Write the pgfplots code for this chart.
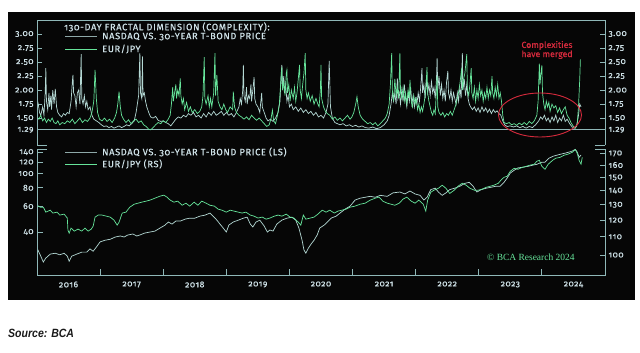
\documentclass[border=0pt]{standalone}
\usepackage{pgfplots}
\pgfplotsset{compat=1.18}
\usepackage{fontspec}
\setmainfont{Fira Sans}[Numbers=OldStyle]
\newfontfamily\chartfont{Fira Sans}[Numbers=OldStyle, LetterSpace=7, FakeBold=0.6]
\newfontfamily\redfont{Fira Sans}[FakeBold=0.5]
\newfontfamily\bcafont{Liberation Serif}
\newfontfamily\srcfont{Liberation Sans}[FakeStretch=0.88]
\definecolor{bg}{HTML}{060606}
\definecolor{frame}{HTML}{8FB8B8}
\definecolor{txt}{HTML}{CFE2E8}
\definecolor{ndq}{HTML}{B4D8D4}
\definecolor{eur}{HTML}{66E49A}
\definecolor{ndqleg}{HTML}{8EA8A8}
\definecolor{redc}{HTML}{D42A3C}
\pgfplotsset{
  common/.style={scale only axis, width=568bp, xmin=2016, xmax=2025,
    axis line style={draw=none}, tick align=inside, major tick length=5bp,
    tick style={draw=frame, line width=0.8bp},
    tick label style={font=\chartfont\fontsize{8.5}{10}\selectfont, text=txt},
    /pgf/number format/assume math mode=true},
}
\begin{document}
\begin{tikzpicture}
\useasboundingbox (0,0) rectangle (640bp,353bp);
\fill[bg] (8bp,53bp) rectangle (635bp,341bp);
% ---------- top panel ----------
\begin{axis}[common, at={(37bp,208bp)}, anchor=south west, height=125bp,
  ymin=1.019, ymax=3.251, xtick=\empty,
  ytick={1.29,1.5,1.75,2,2.25,2.5,2.75,3},
  yticklabels={1.29,1.50,1.75,2.00,2.25,2.50,2.75,3.00},
  ytick pos=both, yticklabel pos=left]
\addplot[frame, line width=0.8bp] coordinates {(2016,1.29) (2025,1.29)};
\addplot[ndq, line width=0.7bp] coordinates {
(2016.00,1.85)(2016.02,1.75)(2016.04,1.60)(2016.06,1.55)(2016.09,1.70)(2016.11,1.55)(2016.13,1.95)(2016.14,2.39)(2016.15,1.80)(2016.17,1.65)(2016.19,1.95)(2016.20,1.70)(2016.22,1.90)(2016.23,1.65)(2016.25,2.00)(2016.27,1.75)(2016.29,2.02)(2016.31,1.70)(2016.33,1.60)(2016.36,1.55)(2016.39,1.52)(2016.42,1.58)(2016.45,1.55)(2016.48,1.60)(2016.51,1.58)(2016.54,1.80)(2016.56,2.15)(2016.57,2.27)(2016.58,1.95)(2016.60,1.90)(2016.62,1.70)(2016.64,1.95)(2016.66,2.00)(2016.68,1.75)(2016.70,2.64)(2016.71,1.85)(2016.73,1.75)(2016.75,1.90)(2016.77,1.70)(2016.79,1.80)(2016.81,1.65)(2016.84,1.70)(2016.87,1.55)(2016.90,1.48)(2016.94,1.45)(2016.98,1.42)
(2017.02,1.38)(2017.06,1.35)(2017.10,1.36)(2017.14,1.33)(2017.18,1.35)(2017.22,1.32)(2017.26,1.34)(2017.30,1.36)(2017.34,1.33)(2017.38,1.35)(2017.42,1.38)(2017.46,1.36)(2017.50,1.40)(2017.54,1.45)(2017.57,1.60)(2017.59,1.75)(2017.61,1.90)(2017.63,2.66)(2017.64,1.95)(2017.66,1.85)(2017.67,2.60)(2017.68,1.90)(2017.70,1.95)(2017.72,1.80)(2017.74,1.70)(2017.77,1.60)(2017.80,1.52)(2017.84,1.50)(2017.88,1.53)(2017.92,1.46)(2017.96,1.44)(2018.00,1.45)(2018.04,1.42)(2018.08,1.40)(2018.12,1.36)(2018.16,1.42)
(2018.20,1.48)(2018.24,1.52)(2018.28,1.50)(2018.32,1.55)(2018.36,1.52)(2018.40,1.58)(2018.44,1.55)(2018.48,1.60)(2018.52,1.52)(2018.56,1.55)(2018.60,1.50)(2018.64,1.58)(2018.68,1.52)(2018.72,1.60)(2018.76,1.55)(2018.80,1.62)(2018.84,1.55)(2018.88,1.58)(2018.92,1.62)(2018.96,1.55)(2019.00,1.60)
(2019.04,1.55)(2019.08,1.58)(2019.12,1.52)(2019.16,1.60)(2019.20,1.70)(2019.22,1.85)(2019.24,1.75)(2019.26,2.00)(2019.27,2.45)(2019.28,1.90)(2019.30,1.80)(2019.32,2.05)(2019.33,1.75)(2019.35,1.90)(2019.37,1.85)(2019.39,2.10)(2019.40,1.80)(2019.42,2.00)(2019.44,2.23)(2019.45,1.85)(2019.47,1.75)(2019.50,1.70)(2019.53,1.60)(2019.56,1.95)(2019.57,1.70)(2019.60,1.60)(2019.63,1.50)(2019.66,1.45)(2019.70,1.48)(2019.74,1.44)(2019.78,1.50)(2019.82,1.60)(2019.85,1.80)(2019.87,2.30)(2019.88,2.45)(2019.89,2.00)(2019.91,2.25)(2019.92,1.95)(2019.94,2.10)(2019.96,1.80)(2019.98,1.90)(2020.00,1.70)
(2020.03,1.75)(2020.06,1.65)(2020.10,1.70)(2020.14,1.62)(2020.18,1.68)(2020.22,1.60)(2020.26,1.65)(2020.30,1.58)(2020.34,1.62)(2020.38,1.55)(2020.42,1.60)(2020.46,1.52)(2020.50,1.55)(2020.54,1.50)(2020.58,1.60)(2020.61,1.75)(2020.63,2.52)(2020.65,1.70)(2020.68,1.50)(2020.72,1.42)(2020.76,1.40)(2020.80,1.38)(2020.85,1.40)(2020.90,1.36)(2020.95,1.38)(2021.00,1.35)(2021.05,1.37)(2021.10,1.34)(2021.15,1.36)(2021.20,1.33)(2021.26,1.32)(2021.32,1.34)(2021.38,1.31)(2021.44,1.33)(2021.50,1.38)(2021.55,1.45)(2021.58,1.55)
(2021.61,1.75)(2021.63,1.95)(2021.65,1.80)(2021.67,1.95)(2021.69,1.75)(2021.71,2.21)(2021.72,1.85)(2021.74,1.95)(2021.76,1.75)(2021.78,2.00)(2021.80,1.80)(2021.82,2.10)(2021.84,1.85)(2021.86,1.70)(2021.88,1.95)(2021.90,1.80)(2021.92,2.05)(2021.94,1.75)(2021.96,1.90)(2021.98,1.70)(2022.00,1.85)(2022.02,1.75)(2022.04,1.95)(2022.06,1.80)(2022.08,2.05)(2022.10,2.39)(2022.11,1.95)(2022.13,2.10)(2022.15,1.85)(2022.17,2.20)(2022.19,1.95)(2022.21,2.10)(2022.23,1.90)(2022.25,2.15)(2022.27,1.95)(2022.29,2.05)(2022.31,1.85)(2022.33,2.20)(2022.34,2.57)(2022.35,2.00)(2022.37,2.25)(2022.39,1.90)(2022.41,2.10)(2022.43,1.85)(2022.45,2.00)(2022.47,1.80)(2022.49,2.15)(2022.51,2.34)(2022.52,1.95)(2022.54,1.85)(2022.56,2.00)(2022.58,1.80)(2022.60,1.95)(2022.62,1.85)(2022.64,1.75)(2022.66,1.95)(2022.68,1.80)(2022.70,2.05)(2022.72,1.85)(2022.74,2.66)(2022.75,2.00)(2022.77,2.20)(2022.79,1.90)(2022.81,2.10)(2022.83,1.85)(2022.85,1.75)(2022.87,1.70)(2022.90,1.65)(2022.93,1.70)(2022.96,1.62)(2022.99,1.68)
(2023.02,1.60)(2023.05,1.70)(2023.08,1.62)(2023.11,1.68)(2023.14,1.60)(2023.17,1.66)(2023.20,1.58)(2023.23,1.65)(2023.26,1.60)(2023.29,1.63)(2023.32,1.58)(2023.35,1.55)(2023.38,1.45)(2023.41,1.38)(2023.45,1.35)(2023.50,1.36)(2023.55,1.34)(2023.60,1.36)(2023.65,1.33)(2023.70,1.35)(2023.75,1.32)(2023.80,1.35)(2023.85,1.33)(2023.90,1.38)(2023.95,1.45)(2023.98,1.52)(2024.01,1.48)(2024.04,1.55)(2024.07,1.45)(2024.10,1.50)(2024.13,1.42)(2024.16,1.52)(2024.19,1.45)(2024.22,1.55)(2024.25,1.42)(2024.28,1.50)(2024.31,1.45)(2024.34,1.55)(2024.37,1.44)(2024.40,1.48)(2024.44,1.40)(2024.48,1.34)(2024.52,1.32)(2024.55,1.35)(2024.58,1.55)(2024.60,1.75)(2024.62,1.70)
};
\addplot[eur, line width=0.7bp] coordinates {
(2016.00,1.52)(2016.03,1.48)(2016.06,1.55)(2016.09,1.45)(2016.12,1.50)(2016.15,1.42)(2016.18,1.48)(2016.21,1.44)(2016.24,1.50)(2016.27,1.42)(2016.30,1.40)(2016.33,1.45)(2016.36,1.38)(2016.40,1.42)(2016.44,1.40)(2016.48,1.45)(2016.52,1.42)(2016.56,1.48)(2016.60,1.40)(2016.64,1.45)(2016.68,1.50)(2016.72,1.42)(2016.76,1.47)(2016.80,1.44)(2016.84,1.50)(2016.87,1.60)(2016.90,1.80)(2016.92,2.36)(2016.94,1.85)(2016.96,1.60)(2016.99,1.48)
(2017.03,1.45)(2017.07,1.50)(2017.11,1.44)(2017.15,1.48)(2017.19,1.42)(2017.23,1.50)(2017.26,1.60)(2017.28,1.75)(2017.30,1.97)(2017.32,1.70)(2017.34,1.55)(2017.37,1.48)(2017.41,1.42)(2017.45,1.47)(2017.49,1.40)(2017.53,1.45)(2017.57,1.48)(2017.61,1.42)(2017.65,1.45)(2017.69,1.38)(2017.73,1.35)(2017.77,1.30)(2017.80,1.29)(2017.84,1.33)(2017.88,1.38)(2017.92,1.42)(2017.96,1.40)
(2018.00,1.45)(2018.04,1.42)(2018.08,1.48)(2018.11,1.55)(2018.13,1.75)(2018.15,2.05)(2018.16,1.80)(2018.18,1.95)(2018.20,2.10)(2018.21,1.85)(2018.23,2.00)(2018.25,1.90)(2018.27,2.21)(2018.28,1.90)(2018.30,1.75)(2018.32,1.85)(2018.34,1.65)(2018.37,1.78)(2018.40,1.62)(2018.43,1.70)(2018.46,1.60)(2018.50,1.65)(2018.54,1.58)(2018.58,1.62)(2018.61,1.70)(2018.63,1.90)(2018.65,2.59)(2018.66,1.85)(2018.68,1.75)(2018.71,1.90)(2018.73,1.70)(2018.75,1.85)(2018.77,1.70)(2018.80,1.95)(2018.82,2.66)(2018.83,1.90)(2018.85,2.27)(2018.87,1.80)(2018.90,1.70)(2018.93,1.65)(2018.96,1.75)(2018.99,1.65)
(2019.02,1.60)(2019.06,1.70)(2019.10,1.65)(2019.11,1.97)(2019.13,1.70)(2019.16,1.60)(2019.20,1.55)(2019.24,1.52)(2019.28,1.48)(2019.32,1.52)(2019.36,1.47)(2019.40,1.55)(2019.44,1.50)(2019.48,1.46)(2019.52,1.50)(2019.56,1.45)(2019.60,1.40)(2019.64,1.35)(2019.68,1.38)(2019.71,1.50)(2019.73,1.64)(2019.75,1.45)(2019.78,1.40)(2019.81,1.55)(2019.84,1.75)(2019.86,2.10)(2019.88,2.41)(2019.89,2.00)(2019.91,2.15)(2019.93,1.90)(2019.95,2.30)(2019.96,2.36)(2019.97,1.95)(2019.99,2.10)
(2020.01,1.80)(2020.03,2.00)(2020.06,1.85)(2020.08,2.05)(2020.10,1.80)(2020.12,1.95)(2020.14,2.20)(2020.16,2.45)(2020.17,2.00)(2020.19,1.85)(2020.21,2.10)(2020.23,2.30)(2020.25,2.66)(2020.26,2.00)(2020.28,1.85)(2020.30,1.95)(2020.33,1.80)(2020.36,1.90)(2020.39,1.75)(2020.42,1.85)(2020.45,1.75)(2020.47,1.70)(2020.49,2.00)(2020.50,2.45)(2020.51,1.85)(2020.54,1.70)(2020.57,1.62)(2020.60,1.58)(2020.64,1.55)(2020.68,1.48)(2020.72,1.52)(2020.76,1.46)(2020.80,1.50)(2020.84,1.45)(2020.88,1.50)(2020.92,1.55)(2020.96,1.48)(2020.99,1.52)
(2021.02,1.60)(2021.05,1.75)(2021.07,1.88)(2021.09,1.70)(2021.12,1.55)(2021.16,1.48)(2021.20,1.44)(2021.24,1.40)(2021.28,1.42)(2021.32,1.38)(2021.36,1.42)(2021.40,1.36)(2021.44,1.40)(2021.48,1.45)(2021.52,1.50)(2021.55,1.58)(2021.58,1.75)(2021.60,2.10)(2021.62,2.66)(2021.63,2.00)(2021.65,1.80)(2021.67,2.20)(2021.69,1.90)(2021.71,2.05)(2021.73,1.85)(2021.75,2.66)(2021.76,1.95)(2021.78,1.85)(2021.80,2.05)(2021.82,1.80)(2021.84,1.95)(2021.86,1.75)(2021.88,2.00)(2021.90,1.85)(2021.91,2.18)(2021.93,1.80)(2021.95,1.70)(2021.97,1.90)(2021.99,1.75)
(2022.01,1.85)(2022.03,1.65)(2022.05,1.75)(2022.07,1.60)(2022.09,1.70)(2022.11,1.62)(2022.13,1.75)(2022.15,1.90)(2022.17,2.20)(2022.18,2.41)(2022.19,1.95)(2022.21,1.80)(2022.23,1.70)(2022.25,1.60)(2022.27,1.55)(2022.29,1.65)(2022.31,1.58)(2022.34,2.25)(2022.35,1.70)(2022.37,1.60)(2022.40,1.55)(2022.43,1.60)(2022.46,1.52)(2022.49,1.58)(2022.52,1.55)(2022.55,1.62)(2022.58,1.55)(2022.61,1.65)(2022.64,1.75)(2022.67,1.90)(2022.70,2.10)(2022.72,2.30)(2022.73,2.40)(2022.74,2.00)(2022.76,2.20)(2022.78,2.30)(2022.81,2.64)(2022.82,2.00)(2022.84,1.90)(2022.86,2.10)(2022.88,2.39)(2022.89,1.95)(2022.91,1.85)(2022.93,2.05)(2022.95,1.80)(2022.97,2.00)(2022.99,1.85)
(2023.01,2.10)(2023.03,1.90)(2023.05,2.00)(2023.07,1.80)(2023.09,1.95)(2023.11,1.85)(2023.13,2.05)(2023.15,1.85)(2023.17,2.00)(2023.19,1.90)(2023.21,2.25)(2023.22,1.95)(2023.24,1.85)(2023.26,2.05)(2023.28,1.90)(2023.30,2.10)(2023.32,1.85)(2023.34,1.95)(2023.36,1.80)(2023.38,1.55)(2023.40,1.42)(2023.44,1.40)(2023.48,1.42)(2023.52,1.38)(2023.56,1.40)(2023.60,1.37)(2023.64,1.41)(2023.68,1.38)(2023.72,1.42)(2023.76,1.38)(2023.80,1.44)(2023.84,1.40)(2023.88,1.45)(2023.92,1.55)(2023.94,1.80)(2023.96,2.47)(2023.97,2.10)(2023.99,2.35)
(2024.00,2.44)(2024.01,1.95)(2024.03,1.75)(2024.05,1.65)(2024.07,1.80)(2024.09,1.70)(2024.11,1.78)(2024.13,1.62)(2024.16,1.75)(2024.19,1.68)(2024.22,1.72)(2024.25,1.60)(2024.28,1.68)(2024.31,1.58)(2024.34,1.65)(2024.37,1.70)(2024.40,1.55)(2024.43,1.50)(2024.46,1.42)(2024.50,1.35)(2024.53,1.32)(2024.56,1.40)(2024.58,1.70)(2024.60,2.20)(2024.61,2.55)
};
\end{axis}
\begin{axis}[common, at={(37bp,208bp)}, anchor=south west, height=125bp,
  ymin=1.019, ymax=3.251, xtick=\empty,
  ytick={1.29,1.5,1.75,2,2.25,2.5,2.75,3},
  yticklabels={1.29,1.50,1.75,2.00,2.25,2.50,2.75,3.00},
  ytick pos=right, yticklabel pos=right, major tick length=0pt]
\addplot[draw=none] coordinates {(2016,2)};
\end{axis}
% ---------- bottom panel, left axis ----------
\begin{axis}[common, at={(37bp,78bp)}, anchor=south west, height=126bp,
  ymode=log, ymin=20.4, ymax=147,
  ytick={40,60,80,100,120,140}, yticklabels={40,60,80,100,120,140},
  ytick pos=left, yticklabel pos=left,
  xtick={2017,2018,2019,2020,2021,2022,2023,2024},
  xticklabels={,,,,,,,}, xtick pos=bottom, major tick length=6bp,
  extra x ticks={2016.5,2017.5,2018.5,2019.5,2020.5,2021.5,2022.5,2023.5,2024.5},
  extra x tick labels={2016,2017,2018,2019,2020,2021,2022,2023,2024},
  extra x tick style={major tick length=0pt, tick style={draw=none}},
  xticklabel style={yshift=-3bp}]
\addplot[ndq, line width=0.7bp] coordinates {
(2016.00,31.1)(2016.05,28.0)(2016.10,25.0)(2016.14,26.6)(2016.21,28.3)(2016.29,28.7)(2016.36,28.0)(2016.43,28.7)(2016.48,27.4)(2016.51,25.3)(2016.55,27.4)(2016.63,28.3)(2016.71,29.2)(2016.79,29.2)(2016.84,30.7)(2016.89,29.6)(2016.95,32.0)
(2017.00,34.3)(2017.08,35.2)(2017.16,35.7)(2017.24,37.0)(2017.32,37.6)(2017.38,37.0)(2017.44,38.2)(2017.52,38.8)(2017.58,37.6)(2017.63,38.2)(2017.71,39.4)(2017.79,40.0)(2017.87,40.6)(2017.95,42.6)
(2018.03,44.6)(2018.08,46.8)(2018.14,45.3)(2018.20,47.5)(2018.27,47.5)(2018.35,49.0)(2018.42,49.7)(2018.50,49.7)(2018.58,51.3)(2018.66,52.1)(2018.74,53.8)(2018.79,51.3)(2018.85,48.2)(2018.90,45.3)(2018.95,42.6)
(2019.00,40.0)(2019.04,44.6)(2019.11,46.8)(2019.19,48.2)(2019.27,49.7)(2019.33,50.5)(2019.38,45.3)(2019.42,43.3)(2019.47,46.8)(2019.53,48.2)(2019.60,43.9)(2019.65,40.0)(2019.69,41.3)(2019.74,40.6)(2019.80,45.3)(2019.88,48.2)(2019.96,49.7)
(2020.04,50.5)(2020.10,48.2)(2020.15,42.6)(2020.20,35.2)(2020.23,30.2)(2020.26,28.7)(2020.30,31.1)(2020.34,33.0)(2020.39,35.2)(2020.44,38.2)(2020.48,42.6)(2020.55,44.6)(2020.60,46.8)(2020.66,49.7)(2020.74,51.3)(2020.80,53.8)(2020.88,57.2)(2020.96,60.0)
(2021.04,66.0)(2021.12,68.0)(2021.20,69.0)(2021.28,70.0)(2021.36,69.0)(2021.44,71.1)(2021.55,70.0)(2021.64,73.9)(2021.75,74.9)(2021.83,72.7)(2021.91,76.1)(2021.99,72.7)
(2022.07,71.1)(2022.13,66.0)(2022.18,69.0)(2022.24,77.8)(2022.31,79.6)(2022.36,74.9)(2022.42,71.1)(2022.48,73.9)(2022.54,77.8)(2022.62,79.6)(2022.70,82.0)(2022.78,85.8)(2022.85,87.2)(2022.91,82.0)(2022.97,74.9)
(2023.04,77.8)(2023.12,79.6)(2023.19,80.6)(2023.27,82.0)(2023.34,82.0)(2023.40,87.2)(2023.45,93.2)(2023.50,100.9)(2023.56,105.3)(2023.62,109.3)(2023.70,110.5)(2023.78,112.0)(2023.86,114.2)(2023.92,115.6)
(2024.00,119.6)(2024.05,119.6)(2024.11,127.2)(2024.18,131.3)(2024.24,133.5)(2024.30,135.6)(2024.37,137.8)(2024.43,140.0)(2024.48,142.3)(2024.53,146.0)(2024.56,140.0)(2024.59,129.2)(2024.62,133.5)
};
\end{axis}
% ---------- bottom panel, right axis ----------
\begin{axis}[common, at={(37bp,78bp)}, anchor=south west, height=126bp,
  ymode=log, ymin=90.1, ymax=174, xtick=\empty,
  ytick={100,110,120,130,140,150,160,170},
  yticklabels={100,110,120,130,140,150,160,170},
  ytick pos=right, yticklabel pos=right]
\addplot[eur, line width=0.7bp] coordinates {
(2016.00,129.7)(2016.05,128.4)(2016.10,128.4)(2016.14,125.1)(2016.21,126.4)(2016.25,124.5)(2016.32,125.1)(2016.36,123.2)(2016.43,123.8)(2016.48,121.3)(2016.49,113.9)(2016.51,112.1)(2016.54,115.1)(2016.59,113.3)(2016.65,114.5)(2016.71,113.3)(2016.76,115.1)(2016.81,113.3)(2016.86,114.5)(2016.89,116.3)(2016.92,121.9)(2016.97,123.2)
(2017.03,123.2)(2017.10,122.5)(2017.16,121.9)(2017.22,120.0)(2017.27,116.9)(2017.30,118.7)(2017.35,124.5)(2017.41,125.1)(2017.47,128.4)(2017.54,130.4)(2017.60,131.1)(2017.66,131.8)(2017.73,132.5)(2017.79,133.2)(2017.87,134.6)(2017.95,136.0)
(2018.01,136.7)(2018.06,135.3)(2018.11,133.2)(2018.17,131.8)(2018.23,132.5)(2018.30,129.7)(2018.36,131.1)(2018.42,129.1)(2018.49,131.8)(2018.55,129.7)(2018.61,132.5)(2018.68,131.1)(2018.74,129.7)(2018.81,129.1)(2018.87,127.1)(2018.93,126.4)
(2019.00,125.1)(2019.06,126.4)(2019.12,125.8)(2019.19,125.1)(2019.25,124.5)(2019.31,125.1)(2019.38,123.2)(2019.44,122.5)(2019.50,121.3)(2019.57,121.9)(2019.63,120.6)(2019.69,121.3)(2019.76,122.5)(2019.82,123.2)(2019.88,122.5)(2019.95,123.8)
(2020.01,121.9)(2020.07,121.3)(2020.14,118.7)(2020.18,116.9)(2020.22,123.2)(2020.26,120.6)(2020.33,121.3)(2020.39,121.9)(2020.45,123.8)(2020.52,126.4)(2020.58,125.1)(2020.64,126.4)(2020.71,124.5)(2020.77,125.8)(2020.83,126.4)(2020.90,127.1)(2020.96,128.4)
(2021.04,129.1)(2021.12,130.4)(2021.20,131.1)(2021.28,133.2)(2021.36,134.6)(2021.42,135.3)(2021.48,132.5)(2021.55,131.1)(2021.61,130.4)(2021.67,129.7)(2021.74,131.1)(2021.80,133.9)(2021.86,135.3)(2021.93,132.5)(2021.99,131.1)
(2022.05,133.2)(2022.12,130.4)(2022.16,125.8)(2022.19,133.2)(2022.24,138.8)(2022.29,140.3)(2022.36,141.7)(2022.42,144.0)(2022.48,141.7)(2022.54,137.9)(2022.61,140.3)(2022.67,143.2)(2022.74,145.5)(2022.80,144.0)(2022.86,141.7)(2022.93,140.3)(2022.99,140.3)
(2023.05,141.0)(2023.12,142.5)(2023.18,143.2)(2023.24,144.0)(2023.31,145.5)(2023.35,147.8)(2023.40,150.1)(2023.45,150.9)(2023.50,154.9)(2023.56,157.3)(2023.62,156.5)(2023.69,158.1)(2023.75,158.9)(2023.81,159.9)(2023.88,160.7)(2023.92,163.2)(2023.96,164.0)
(2024.00,158.9)(2024.05,156.5)(2024.10,160.7)(2024.17,164.0)(2024.22,165.8)(2024.29,166.6)(2024.35,168.4)(2024.41,169.3)(2024.48,171.0)(2024.53,173.5)(2024.56,170.1)(2024.59,164.0)(2024.62,160.7)(2024.64,166.6)
};
\end{axis}
% ---------- frames ----------
\begin{scope}[draw=frame, line width=0.8bp]
\draw (37bp,208bp) -- (37bp,333bp) -- (605bp,333bp) -- (605bp,208bp);
\draw (37bp,208bp) -- (47bp,208bp);
\draw (595bp,208bp) -- (605bp,208bp);
\draw (37bp,204bp) -- (37bp,78bp) -- (605bp,78bp) -- (605bp,204bp);
\draw (37bp,204bp) -- (47bp,204bp);
\draw (595bp,204bp) -- (605bp,204bp);
\end{scope}
% ---------- legends and notes ----------
\begin{scope}[every node/.style={font=\chartfont\fontsize{9.3}{10}\selectfont, text=txt, inner sep=0pt}]
\node[anchor=west] at (64bp,326bp) {130-DAY FRACTAL DIMENSION (COMPLEXITY):};
\draw[ndqleg, line width=0.9bp] (65bp,316.5bp) -- (97bp,316.5bp);
\node[anchor=west] at (102bp,316.5bp) {NASDAQ VS. 30-YEAR T-BOND PRICE};
\draw[eur, line width=0.9bp] (65bp,304bp) -- (97bp,304bp);
\node[anchor=west] at (102bp,304bp) {EUR/JPY};
\draw[ndqleg, line width=0.9bp] (65bp,201bp) -- (97bp,201bp);
\node[anchor=west] at (102bp,201bp) {NASDAQ VS. 30-YEAR T-BOND PRICE (LS)};
\draw[eur, line width=0.9bp] (65bp,189bp) -- (97bp,189bp);
\node[anchor=west] at (102bp,189bp) {EUR/JPY (RS)};
\end{scope}
\node[font=\redfont\fontsize{8.8}{9.2}\selectfont, text=redc, align=center, inner sep=0pt] at (547bp,303bp) {Complexities\\have merged};
\draw[redc, line width=0.9bp] (540bp,238bp) ellipse [x radius=41.5bp, y radius=22bp];
\node[anchor=west, font=\bcafont\fontsize{9.5}{11}\selectfont, text=eur, inner sep=0pt] at (487bp,96bp) {\textcopyright{} BCA Research 2024};
\node[anchor=west, font=\srcfont\bfseries\itshape\fontsize{12}{14}\selectfont, text=black!90, inner sep=0pt] at (8bp,19.5bp) {Source: BCA};
\end{tikzpicture}
\end{document}
